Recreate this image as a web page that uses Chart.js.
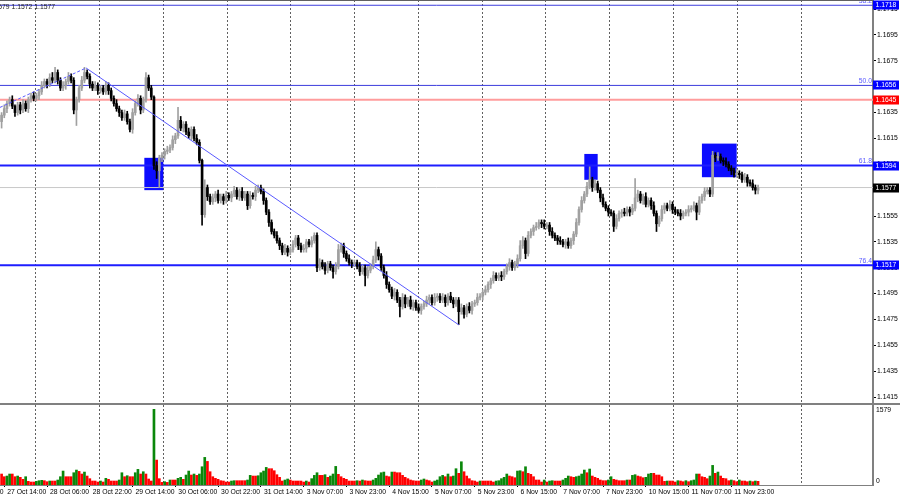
<!DOCTYPE html>
<html>
<head>
<meta charset="utf-8">
<script src="https://cdn.jsdelivr.net/npm/chart.js@4.4.1/dist/chart.umd.min.js"></script>
<style>
  html, body { margin: 0; padding: 0; background: #fff; }
  #wrap { position: relative; width: 900px; height: 500px; overflow: hidden; }
  #price { position: absolute; left: 0; top: 0; }
  #vol { position: absolute; left: 0; top: 405px; }
  #sep { position: absolute; left: 0; top: 403px; width: 900px; height: 2px; background: #808080; }
</style>
</head>
<body>
<div id="wrap">
  <canvas id="price" width="900" height="404"></canvas>
  <div id="sep"></div>
  <canvas id="vol" width="900" height="95"></canvas>
</div>
<script>
// EURUSD H1, 27 Oct 13:00 .. 12 Nov 09:00 (one value per hourly bar)
const firstOpen = 1.1628;
const closes = [
  1.1633,1.1638,1.1642,1.1645,1.1640,1.1635,1.1641,1.1637,1.1642,1.1638,1.1645,1.1648,1.1646,1.1648,1.1651,1.1656,1.1659,1.1657,1.1662,1.1660,
  1.1666,1.1660,1.1654,1.1656,1.1659,1.1663,1.1660,1.1637,1.1645,1.1654,1.1660,1.1666,1.1663,1.1657,1.1654,1.1656,1.1652,1.1654,1.1651,1.1656,
  1.1652,1.1646,1.1642,1.1638,1.1635,1.1631,1.1634,1.1628,1.1622,1.1635,1.1642,1.1646,1.1637,1.1645,1.1662,1.1654,1.1647,1.1594,1.1590,1.1600,
  1.1602,1.1605,1.1606,1.1608,1.1614,1.1617,1.1629,1.1623,1.1626,1.1620,1.1617,1.1622,1.1615,1.1612,1.1598,1.1556,1.1577,1.1570,1.1566,1.1569,
  1.1572,1.1567,1.1570,1.1567,1.1571,1.1569,1.1572,1.1575,1.1570,1.1574,1.1569,1.1572,1.1563,1.1571,1.1570,1.1575,1.1577,1.1574,1.1567,1.1558,
  1.1550,1.1543,1.1540,1.1536,1.1532,1.1527,1.1530,1.1527,1.1529,1.1533,1.1538,1.1532,1.1529,1.1530,1.1535,1.1533,1.1536,1.1540,1.1515,1.1519,
  1.1516,1.1513,1.1518,1.1515,1.1512,1.1516,1.1529,1.1532,1.1526,1.1522,1.1519,1.1518,1.1519,1.1516,1.1512,1.1515,1.1509,1.1513,1.1516,1.1521,
  1.1529,1.1524,1.1515,1.1509,1.1502,1.1498,1.1493,1.1496,1.1490,1.1485,1.1492,1.1487,1.1490,1.1485,1.1488,1.1484,1.1482,1.1485,1.1487,1.1490,
  1.1492,1.1488,1.1492,1.1493,1.1490,1.1492,1.1488,1.1493,1.1490,1.1487,1.1490,1.1481,1.1484,1.1479,1.1485,1.1482,1.1487,1.1488,1.1492,1.1493,
  1.1496,1.1498,1.1502,1.1505,1.1509,1.1507,1.1509,1.1508,1.1512,1.1516,1.1519,1.1515,1.1518,1.1522,1.1532,1.1536,1.1526,1.1540,1.1543,1.1546,
  1.1547,1.1550,1.1549,1.1547,1.1548,1.1543,1.1540,1.1538,1.1536,1.1535,1.1533,1.1535,1.1532,1.1536,1.1541,1.1550,1.1560,1.1567,1.1572,1.1578,
  1.1583,1.1577,1.1580,1.1575,1.1569,1.1564,1.1561,1.1558,1.1557,1.1547,1.1553,1.1557,1.1558,1.1557,1.1560,1.1558,1.1561,1.1569,1.1572,1.1567,
  1.1570,1.1564,1.1567,1.1563,1.1557,1.1549,1.1553,1.1560,1.1563,1.1561,1.1564,1.1560,1.1558,1.1557,1.1555,1.1557,1.1558,1.1560,1.1561,1.1563,
  1.1558,1.1567,1.1570,1.1574,1.1575,1.1572,1.1602,1.1600,1.1601,1.1598,1.1597,1.1595,1.1592,1.1590,1.1587,1.1588,1.1587,1.1583,1.1585,1.1581,
  1.1580,1.1577,1.1575,1.1577
];
// wick lengths in pips above the body / below the body
const upWick = [
  2,3,2,2,3,1,2,2,3,2,2,2,3,2,2,3,2,2,3,4,
  4,2,2,3,2,3,2,2,2,2,3,4,2,2,2,3,2,2,2,3,
  2,2,2,3,2,2,3,2,2,3,2,3,2,2,4,2,2,1,3,2,
  2,2,3,2,3,2,10,3,2,2,3,2,2,3,2,1,6,2,2,3,
  2,3,2,2,3,2,2,3,2,2,3,2,2,3,2,3,2,2,2,2,
  2,2,2,3,2,2,3,2,2,3,2,2,2,3,2,2,3,2,2,3,
  2,3,2,2,2,3,4,2,2,2,3,2,2,2,3,2,2,3,2,3,
  6,2,2,2,3,2,2,3,2,2,3,2,2,3,2,2,3,2,2,3,
  2,2,3,2,2,3,2,2,3,2,2,2,3,2,2,3,2,2,3,2,
  2,3,2,2,3,2,2,3,2,2,3,2,2,3,4,3,2,3,2,2,
  3,2,2,3,2,2,3,2,2,3,2,2,3,2,2,3,2,3,2,3,
  10,2,3,2,2,3,2,2,2,2,3,2,2,3,2,2,3,15,3,2,
  2,3,2,2,3,2,2,3,2,2,3,2,2,2,3,2,2,3,2,3,
  2,3,2,3,2,2,3,2,3,2,2,3,2,2,2,3,2,2,3,2,
  2,3,2,2
];
const dnWick = [
  5,2,3,2,2,3,2,3,2,2,3,2,2,2,3,2,2,3,2,2,
  2,3,2,2,3,2,2,3,12,2,2,2,2,3,2,2,3,2,2,2,
  3,2,2,2,3,2,2,2,2,3,2,2,3,2,2,2,2,3,6,13,
  3,3,2,2,2,3,2,2,3,2,2,3,2,2,2,8,2,3,2,2,
  3,2,2,3,2,2,3,2,2,3,2,2,3,2,2,3,2,2,3,2,
  3,2,2,2,3,2,2,3,2,2,2,3,2,2,3,2,2,2,3,2,
  2,3,2,2,5,2,2,2,3,2,2,3,2,2,3,2,8,2,2,2,
  2,3,2,2,3,2,2,3,2,8,2,3,2,2,3,2,2,3,2,2,
  3,2,2,3,2,2,3,2,2,3,2,10,2,3,2,2,3,2,2,2,
  3,2,2,3,2,2,2,3,2,2,3,2,2,3,2,2,4,2,2,3,
  2,2,3,2,2,3,2,2,3,2,2,3,2,2,3,2,2,2,2,2,
  2,3,2,2,3,2,2,3,2,4,2,2,3,2,2,3,2,2,3,2,
  3,2,2,3,2,6,2,2,3,2,2,3,2,2,3,2,2,3,2,2,
  6,2,2,3,2,2,2,3,2,2,3,2,2,3,2,2,3,2,2,3,
  2,2,3,3
];
const volumes = [
  229,173,187,229,229,173,187,160,118,173,76,62,62,76,90,97,90,69,83,83,
  83,104,173,291,173,173,173,256,312,284,229,270,187,132,83,83,62,83,62,139,
  118,83,83,83,104,256,173,194,173,173,256,326,229,277,229,125,83,1579,520,132,
  55,69,55,104,104,104,139,160,118,208,291,208,229,201,229,381,576,492,277,173,
  139,118,90,83,62,62,83,90,90,90,90,90,104,201,187,187,194,256,291,367,
  340,340,298,215,160,83,104,125,104,83,83,83,83,62,83,62,132,201,256,201,
  201,215,160,187,229,388,222,173,139,118,83,83,83,90,83,104,90,83,83,104,
  139,208,256,270,187,173,270,270,256,256,201,160,132,104,90,83,83,104,125,104,
  90,62,83,104,173,201,173,229,173,187,340,243,485,277,187,132,90,83,62,83,
  83,83,83,83,62,83,90,132,160,229,187,173,152,291,298,277,381,243,222,173,
  104,104,62,104,62,83,90,83,83,83,104,139,187,173,160,173,187,229,312,256,
  333,187,160,139,104,90,90,104,173,118,104,90,90,90,104,104,201,215,187,173,
  152,160,229,243,243,208,208,173,76,83,83,83,62,90,83,69,90,69,90,104,
  229,229,173,160,132,187,409,243,270,187,139,132,90,104,90,69,104,83,83,69,
  83,69,83,76
];
const volumeTop = 1579;

// time axis labels, one every 16 bars starting 16 bars before 27 Oct 14:00
const timeLabels = ['24 Oct 22:00', '27 Oct 14:00', '28 Oct 06:00', '28 Oct 22:00', '29 Oct 14:00', '30 Oct 06:00',
  '30 Oct 22:00', '31 Oct 14:00', '3 Nov 07:00', '3 Nov 23:00', '4 Nov 15:00', '5 Nov 07:00', '5 Nov 23:00',
  '6 Nov 15:00', '7 Nov 07:00', '7 Nov 23:00', '10 Nov 15:00', '11 Nov 07:00', '11 Nov 23:00'];
const priceTicks = [1.1415, 1.1435, 1.1455, 1.1475, 1.1495, 1.1515, 1.1535, 1.1555, 1.1575,
  1.1595, 1.1615, 1.1635, 1.1655, 1.1675, 1.1695, 1.1715];

// drawn objects
const fiboLevels = [1.1718, 1.1656, 1.1594, 1.1517];
const fiboNames = ['38.2', '50.0', '61.8', '76.4'];
const resistance = 1.1645;
const bid = 1.1577;
const trendBars = [-0.6, 31.6, 171.1];
const trendPrices = [1.1639, 1.16695, 1.14707];
const zoneStart = [53.4, 218, 262];
const zoneEnd = [60.5, 223, 275];
const zoneTop = [1.1600, 1.1603, 1.1611];
const zoneBottom = [1.1575, 1.1583, 1.1585];

// view
const xMin = -0.6, xMax = 326.0;
const yMin = 1.140959, yMax = 1.172207;
const FONT = { family: 'Liberation Sans, Arial, sans-serif', size: 6.8 };
const UP = '#a0a0a0', DOWN = '#000000';

const opens = closes.map((c, i) => i === 0 ? firstOpen : closes[i - 1]);
const highs = closes.map((c, i) => Math.max(opens[i], c) + upWick[i] / 10000);
const lows = closes.map((c, i) => Math.min(opens[i], c) - dnWick[i] / 10000);
const candleColors = closes.map((c, i) => c >= opens[i] ? UP : DOWN);

const gridBars = [];
for (let k = 0; k < 13; k++) gridBars.push(12.76 + 23.86 * k);
const labelBars = timeLabels.map((t, k) => -15 + 16 * k);

function hline(v, color, width, order) {
  return { type: 'line', data: [{ x: xMin, y: v }, { x: xMax, y: v }], borderColor: color,
    borderWidth: width, pointRadius: 0, order: order };
}

const overlay = {
  id: 'overlay',
  beforeDatasetsDraw(chart) {
    const { ctx, chartArea, scales: { x, y } } = chart;
    ctx.save();
    ctx.beginPath();
    ctx.rect(chartArea.left, chartArea.top, chartArea.width, chartArea.height);
    ctx.clip();
    ctx.fillStyle = '#0c0cff';
    zoneStart.forEach((s, k) => {
      const x0 = x.getPixelForValue(s), x1 = x.getPixelForValue(zoneEnd[k]);
      const y0 = y.getPixelForValue(zoneTop[k]), y1 = y.getPixelForValue(zoneBottom[k]);
      ctx.fillRect(x0, y0, x1 - x0, y1 - y0);
    });
    ctx.restore();
  },
  afterDraw(chart) {
    const { ctx, chartArea, scales: { y } } = chart;
    ctx.save();
    ctx.font = FONT.size + 'px ' + FONT.family;
    // fibo level names
    ctx.fillStyle = '#5a5aff';
    ctx.textAlign = 'right';
    ctx.textBaseline = 'bottom';
    fiboLevels.forEach((v, k) => {
      ctx.fillText(fiboNames[k], chartArea.right - 1, y.getPixelForValue(v) - 1);
    });
    // price tags on the axis
    const tags = fiboLevels.map(v => [v, '#0000ff']);
    tags.push([resistance, '#ff0000'], [bid, '#000000']);
    ctx.textAlign = 'left';
    ctx.textBaseline = 'middle';
    tags.forEach(([v, col]) => {
      const py = y.getPixelForValue(v);
      ctx.fillStyle = col;
      ctx.fillRect(chartArea.right, Math.round(py) - 4.5, 26, 9);
      ctx.fillStyle = '#fff';
      ctx.fillText(v.toFixed(4), chartArea.right + 2.5, Math.round(py));
    });
    // last bar H L C in the corner
    const n = closes.length - 1;
    ctx.fillStyle = '#202020';
    ctx.textAlign = 'right';
    ctx.fillText(highs[n].toFixed(4) + ' ' + lows[n].toFixed(4) + ' ' + closes[n].toFixed(4), 55, 7);
    // top frame
    ctx.fillStyle = '#606060';
    ctx.fillRect(0, 0, chartArea.right, 1);
    ctx.restore();
  }
};

function noPad(s) { s.paddingTop = 0; s.paddingBottom = 0; s.paddingLeft = 0; s.paddingRight = 0; }

new Chart(document.getElementById('price'), {
  data: {
    datasets: [
      { type: 'line', data: [{ x: trendBars[0], y: trendPrices[0] }, { x: trendBars[1], y: trendPrices[1] }],
        borderColor: '#5a5aff', borderWidth: 1, borderDash: [3, 2], pointRadius: 0, order: 0 },
      { type: 'line', data: [{ x: trendBars[1], y: trendPrices[1] }, { x: trendBars[2], y: trendPrices[2] }],
        borderColor: '#5a5aff', borderWidth: 1, pointRadius: 0, order: 0 },
      { type: 'bar', data: closes.map((c, i) => ({ x: i, y: [opens[i], c] })), backgroundColor: candleColors,
        barThickness: 2, minBarLength: 1, grouped: false, order: 1 },
      { type: 'bar', data: closes.map((c, i) => ({ x: i, y: [lows[i], highs[i]] })), backgroundColor: candleColors,
        barThickness: 1, grouped: false, order: 2 },
      hline(bid, '#c8c8c8', 1, 5),
      hline(resistance, '#ff9c9c', 2, 5),
      hline(fiboLevels[0], '#3c3cdc', 1, 5),
      hline(fiboLevels[1], '#3c3cdc', 1, 5),
      hline(fiboLevels[2], '#1e1eff', 2, 5),
      hline(fiboLevels[3], '#1e1eff', 2, 5)
    ]
  },
  options: {
    responsive: false, animation: false, devicePixelRatio: 1,
    layout: { padding: 0 },
    plugins: { legend: { display: false }, tooltip: { enabled: false } },
    scales: {
      x: {
        type: 'linear', min: xMin, max: xMax, bounds: 'data', offset: false,
        afterBuildTicks: s => { s.ticks = gridBars.map(v => ({ value: v })); },
        afterFit: s => { s.height = 0; noPad(s); },
        ticks: { display: false },
        grid: { color: '#606060', lineWidth: 1, drawTicks: false, offset: false },
        border: { display: false, dash: [2, 2] }
      },
      y: {
        type: 'linear', position: 'right', min: yMin, max: yMax, bounds: 'data',
        afterBuildTicks: s => { s.ticks = priceTicks.map(v => ({ value: v })); },
        afterFit: s => { s.width = 27; noPad(s); },
        ticks: { callback: v => v.toFixed(4), color: '#000', font: FONT, padding: 1, autoSkip: false },
        grid: { drawOnChartArea: false, drawTicks: true, tickLength: 3, color: '#000' },
        border: { display: true, color: '#808080', width: 2 }
      }
    }
  },
  plugins: [overlay]
});

// Volumes: green when the bar's volume is above the previous one
const volColors = volumes.map((v, i) => i > 0 && v > volumes[i - 1] ? '#0a870a' : '#ff0000');

const volLabels = {
  id: 'volLabels',
  afterDraw(chart) {
    const { ctx, chartArea, scales: { y } } = chart;
    ctx.save();
    ctx.font = FONT.size + 'px ' + FONT.family;
    ctx.fillStyle = '#000';
    ctx.textAlign = 'left';
    ctx.textBaseline = 'middle';
    ctx.fillText(String(volumeTop), chartArea.right + 3, y.getPixelForValue(volumeTop) + 0.5);
    ctx.fillText('0', chartArea.right + 3, y.getPixelForValue(0) - 4);
    ctx.restore();
  }
};

new Chart(document.getElementById('vol'), {
  type: 'bar',
  data: {
    datasets: [{ data: volumes.map((v, i) => ({ x: i, y: v })), backgroundColor: volColors,
      barThickness: 2, grouped: false }]
  },
  options: {
    responsive: false, animation: false, devicePixelRatio: 1,
    layout: { padding: 0 },
    plugins: { legend: { display: false }, tooltip: { enabled: false } },
    scales: {
      x: {
        type: 'linear', min: xMin, max: xMax, bounds: 'data', offset: false,
        afterBuildTicks: s => { s.ticks = gridBars.map(v => ({ value: v })); },
        afterFit: s => { s.height = 0; noPad(s); },
        ticks: { display: false },
        grid: { color: '#606060', lineWidth: 1, drawTicks: false, offset: false },
        border: { display: false, dash: [2, 2] }
      },
      xt: {
        type: 'linear', position: 'bottom', min: xMin, max: xMax, bounds: 'data', offset: false,
        afterBuildTicks: s => { s.ticks = labelBars.map(v => ({ value: v })); },
        afterFit: s => { s.height = 15; noPad(s); },
        ticks: { callback: (v, k) => timeLabels[k], align: 'start', labelOffset: 3, padding: 1, font: FONT,
          color: '#000', maxRotation: 0, autoSkip: false },
        grid: { drawOnChartArea: false, drawTicks: true, tickLength: 2, color: '#000', offset: false },
        border: { display: true, color: '#808080', width: 1 }
      },
      y: {
        type: 'linear', position: 'right', min: 0, max: volumeTop * 80 / 75.7, bounds: 'data',
        afterFit: s => { s.width = 27; noPad(s); },
        ticks: { display: false },
        grid: { display: false },
        border: { display: true, color: '#808080', width: 2 }
      }
    }
  },
  plugins: [volLabels]
});
</script>
</body>
</html>
